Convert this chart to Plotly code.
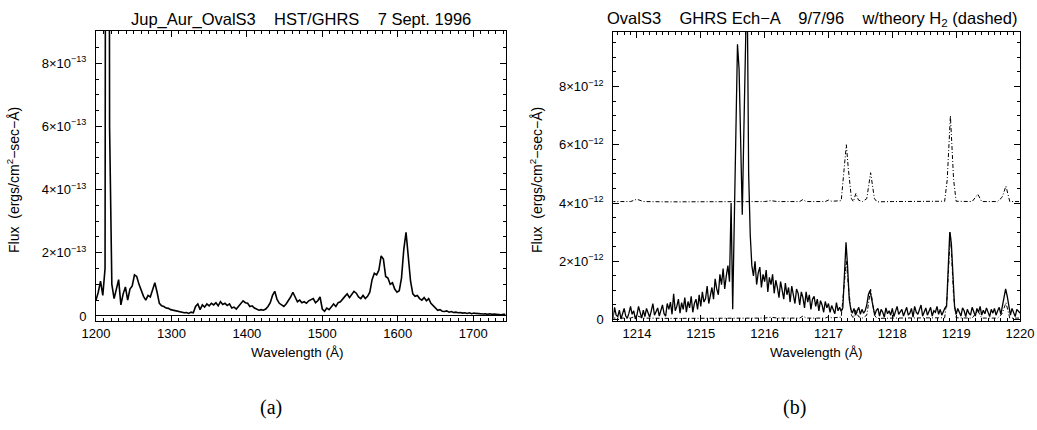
import numpy as np
import plotly.graph_objects as go

# ---------------- Panel (a): low-resolution spectrum (flux in 1e-13 units) ----------------
WAVE_A_START = 1200.0   # Angstrom
WAVE_A_STEP = 3.0       # Angstrom per sample
flux_a_e13 = [
    # 1200 - 1227
    0.50, 0.75, 1.10, 0.65, 1.50, 60.0, 6.00, 1.00, 0.55, 0.90,
    # 1230 - 1257
    1.15, 0.35, 0.70, 0.92, 0.50, 0.85, 0.95, 1.30, 1.25, 1.00,
    # 1260 - 1287
    0.80, 0.62, 0.50, 0.65, 0.60, 0.80, 1.05, 0.75, 0.40, 0.32,
    # 1290 - 1317
    0.30, 0.25, 0.24, 0.20, 0.18, 0.17, 0.15, 0.14, 0.12, 0.10,
    # 1320 - 1347
    0.11, 0.08, 0.12, 0.10, 0.30, 0.38, 0.20, 0.35, 0.28, 0.38,
    # 1350 - 1377
    0.32, 0.40, 0.35, 0.42, 0.32, 0.45, 0.36, 0.40, 0.33, 0.38,
    # 1380 - 1407
    0.25, 0.28, 0.22, 0.30, 0.40, 0.48, 0.42, 0.40, 0.30, 0.32,
    # 1410 - 1437
    0.25, 0.22, 0.18, 0.20, 0.18, 0.22, 0.30, 0.42, 0.65, 0.78,
    # 1440 - 1467
    0.52, 0.40, 0.35, 0.30, 0.38, 0.48, 0.60, 0.75, 0.60, 0.45,
    # 1470 - 1497
    0.50, 0.42, 0.45, 0.40, 0.48, 0.52, 0.55, 0.42, 0.48, 0.60,
    # 1500 - 1527
    0.22, 0.15, 0.25, 0.20, 0.30, 0.38, 0.30, 0.42, 0.45, 0.55,
    # 1530 - 1557
    0.62, 0.70, 0.58, 0.68, 0.78, 0.72, 0.60, 0.55, 0.65, 0.55,
    # 1560 - 1587
    0.62, 0.75, 1.15, 1.35, 1.30, 1.45, 1.90, 1.80, 1.25, 1.20,
    # 1590 - 1617
    1.00, 1.05, 0.85, 0.75, 0.80, 1.20, 2.10, 2.65, 1.80, 1.10,
    # 1620 - 1647
    0.70, 0.62, 0.65, 0.55, 0.50, 0.58, 0.48, 0.55, 0.40, 0.32,
    # 1650 - 1677
    0.25, 0.18, 0.20, 0.15, 0.14, 0.16, 0.12, 0.14, 0.11, 0.12,
    # 1680 - 1707
    0.10, 0.11, 0.09, 0.10, 0.08, 0.10, 0.07, 0.09, 0.08, 0.07,
    # 1710 - 1737
    0.08, 0.06, 0.07, 0.05, 0.07, 0.05, 0.06, 0.05, 0.06, 0.04,
    # 1740 - 1743
    0.05, 0.05,
]

# ---------------- Panel (b): echelle spectrum around Lyman alpha (flux in 1e-12 units) -----
WAVE_B_START = 1213.6   # Angstrom
WAVE_B_STEP = 0.025     # Angstrom per sample
flux_b_e12 = [
    0.20, 0.05, 0.42, 0.15, 0.10, 0.32, 0.02, 0.25,   # 1213.6
    0.38, 0.12, 0.05, 0.22, 0.45, 0.18, 0.30, 0.02,   # 1213.8
    0.15, 0.45, 0.28, 0.05, 0.32, 0.10, 0.38, 0.20,   # 1214.0
    0.08, 0.30, 0.55, 0.15, 0.25, 0.40, 0.12, 0.35,   # 1214.2
    0.50, 0.20, 0.12, 0.55, 0.35, 0.60, 0.18, 0.88,   # 1214.4
    0.30, 0.45, 0.70, 0.22, 0.58, 0.35, 0.75, 0.25,   # 1214.6
    0.62, 0.40, 0.80, 0.25, 0.55, 0.70, 0.35, 0.85,   # 1214.8
    0.45, 0.95, 0.60, 0.72, 1.15, 0.55, 0.90, 1.10,   # 1215.0
    0.70, 1.40, 1.05, 0.85, 1.55, 1.20, 1.75, 1.05,   # 1215.2
    1.50, 1.85, 1.30, 4.00, 0.35, 3.00, 6.50, 9.45,   # 1215.4
    8.60, 5.50, 3.60, 6.50, 11.5, 12.0, 5.00, 2.90,   # 1215.6
    1.85, 1.50, 2.00, 1.20, 1.60, 1.80, 1.10, 1.55,   # 1215.8
    1.30, 1.70, 0.95, 1.45, 1.20, 1.55, 0.90, 1.35,   # 1216.0
    1.10, 0.75, 1.30, 1.00, 0.70, 1.25, 0.85, 1.10,   # 1216.2
    0.60, 1.15, 0.80, 0.55, 1.05, 0.90, 0.50, 0.95,   # 1216.4
    0.75, 0.40, 0.95, 0.60, 0.85, 0.35, 0.70, 0.80,   # 1216.6
    0.45, 0.70, 0.30, 0.65, 0.50, 0.25, 0.62, 0.40,   # 1216.8
    0.55, 0.25, 0.48, 0.35, 0.20, 0.58, 0.30, 0.42,   # 1217.0
    0.28, 0.40, 1.50, 2.65, 1.80, 0.70, 0.35, 0.22,   # 1217.2
    0.38, 0.15, 0.30, 0.42, 0.18, 0.35, 0.22, 0.30,   # 1217.4
    0.50, 0.85, 1.00, 0.70, 0.35, 0.15, 0.32, 0.38,   # 1217.6
    0.12, 0.35, 0.25, 0.08, 0.40, 0.20, 0.30, 0.15,   # 1217.8
    0.38, 0.10, 0.28, 0.45, 0.18, 0.25, 0.35, 0.12,   # 1218.0
    0.30, 0.42, 0.15, 0.22, 0.38, 0.08, 0.45, 0.25,   # 1218.2
    0.18, 0.35, 0.50, 0.12, 0.28, 0.40, 0.15, 0.32,   # 1218.4
    0.42, 0.12, 0.30, 0.25, 0.45, 0.18, 0.35, 0.15,   # 1218.6
    0.28, 0.40, 0.45, 1.50, 3.00, 2.60, 1.20, 0.45,   # 1218.8
    0.18, 0.38, 0.25, 0.12, 0.40, 0.30, 0.10, 0.35,   # 1219.0
    0.22, 0.15, 0.42, 0.30, 0.12, 0.38, 0.25, 0.45,   # 1219.2
    0.15, 0.32, 0.20, 0.40, 0.28, 0.10, 0.35, 0.22,   # 1219.4
    0.38, 0.15, 0.30, 0.42, 0.18, 0.45, 0.75, 1.05,   # 1219.6
    0.80, 0.45, 0.15, 0.38, 0.25, 0.10, 0.35, 0.28,   # 1219.8
    0.22,                                             # 1220.0
]

# Theoretical H2 emission spectrum (flux in 1e-12 units)
h2_wave = [
    1213.60, 1213.90, 1214.00, 1214.10, 1214.50, 1215.00, 1215.50, 1216.00,
    1216.10, 1216.20, 1216.55, 1216.60, 1216.65, 1216.95, 1217.00, 1217.05,
    1217.20, 1217.25, 1217.28, 1217.31, 1217.36, 1217.39, 1217.43, 1217.47,
    1217.53, 1217.60, 1217.66, 1217.72, 1217.76, 1218.00, 1218.50, 1218.82,
    1218.86, 1218.91, 1218.96, 1219.00, 1219.25, 1219.34, 1219.40, 1219.65,
    1219.72, 1219.78, 1219.84, 1220.00,
]
h2_flux_e12 = [
    0.05, 0.05, 0.13, 0.05, 0.04, 0.05, 0.04, 0.05,
    0.08, 0.05, 0.05, 0.12, 0.05, 0.05, 0.10, 0.06,
    0.08, 1.20, 2.00, 1.20, 0.15, 0.05, 0.33, 0.10,
    0.05, 0.15, 1.04, 0.15, 0.04, 0.05, 0.05, 0.06,
    0.80, 3.00, 0.80, 0.06, 0.05, 0.30, 0.05, 0.05,
    0.20, 0.58, 0.05, 0.05,
]
H2_OFFSET_E12 = 4.0     # vertical shift of the displaced model copy

# Axis ticks and labels
xticks_a = [1200, 1300, 1400, 1500, 1600, 1700]
yticks_a = [0, 2, 4, 6, 8]
ylabels_a = ["0"] + ["{}×10<sup>−13</sup>".format(v) for v in yticks_a[1:]]
xticks_b = [1214, 1215, 1216, 1217, 1218, 1219, 1220]
yticks_b = [0, 2, 4, 6, 8]
ylabels_b = ["0"] + ["{}×10<sup>−12</sup>".format(v) for v in yticks_b[1:]]

title_a = "Jup_Aur_OvalS3    HST/GHRS    7 Sept. 1996"
title_b = "OvalS3    GHRS Ech−A    9/7/96    w/theory H<sub>2</sub> (dashed)"
xtitle = "Wavelength (Å)"
ytitle = "Flux  (ergs/cm<sup>2</sup>−sec−Å)"

# ---------------- derived arrays ----------------
wave_a = WAVE_A_START + WAVE_A_STEP * np.arange(len(flux_a_e13))
flux_a = np.array(flux_a_e13) * 1e-13
wave_b = WAVE_B_START + WAVE_B_STEP * np.arange(len(flux_b_e12))
flux_b = np.array(flux_b_e12) * 1e-12
h2_w = np.array(h2_wave)
h2_f = np.array(h2_flux_e12) * 1e-12

W, H = 1037, 430
def px(x):
    return x / W
def py(y):
    return 1 - y / H

FONT = "Liberation Sans, Arial, Helvetica, sans-serif"
DASHDOT = "4px,2px,1px,2px"

fig = go.Figure()
fig.add_trace(go.Scatter(x=wave_a, y=flux_a, mode="lines",
                         line=dict(color="black", width=1.6),
                         xaxis="x", yaxis="y", showlegend=False))
fig.add_trace(go.Scatter(x=wave_b, y=flux_b, mode="lines",
                         line=dict(color="black", width=1.3),
                         xaxis="x2", yaxis="y2", showlegend=False))
fig.add_trace(go.Scatter(x=h2_w, y=h2_f, mode="lines",
                         line=dict(color="black", width=1, dash=DASHDOT),
                         xaxis="x2", yaxis="y2", showlegend=False))
fig.add_trace(go.Scatter(x=h2_w, y=h2_f + H2_OFFSET_E12 * 1e-12, mode="lines",
                         line=dict(color="black", width=1, dash=DASHDOT),
                         xaxis="x2", yaxis="y2", showlegend=False))

def axis_common():
    return dict(showline=True, linecolor="black", linewidth=1, mirror="allticks",
                ticks="inside", ticklen=6, tickwidth=1, tickcolor="black",
                showgrid=False, automargin=False,
                tickfont=dict(family=FONT, size=13, color="black"),
                tickmode="array")

xa = axis_common()
xa.update(domain=[px(96), px(505.6)], range=[1200, 1743], anchor="y",
          tickvals=xticks_a, ticktext=[str(v) for v in xticks_a], zeroline=False,
          minor=dict(ticks="inside", ticklen=3, tickwidth=1, tickcolor="black",
                     tickmode="linear", tick0=1200, dtick=10, showgrid=False))
ya = axis_common()
ya.update(domain=[py(321), py(31)], range=[-0.16e-13, 9.02e-13], anchor="x",
          tickvals=[v * 1e-13 for v in yticks_a], ticktext=ylabels_a,
          zeroline=True, zerolinecolor="black", zerolinewidth=1,
          ticklabelstandoff=6,
          minor=dict(ticks="inside", ticklen=3, tickwidth=1, tickcolor="black",
                     tickmode="linear", tick0=0, dtick=0.5e-13, showgrid=False))
xb = axis_common()
xb.update(domain=[px(613.3), px(1020)], range=[1213.63, 1220.0], anchor="y2",
          tickvals=xticks_b, ticktext=[str(v) for v in xticks_b], zeroline=False,
          minor=dict(ticks="inside", ticklen=3, tickwidth=1, tickcolor="black",
                     tickmode="linear", tick0=1213, dtick=0.1, showgrid=False))
yb = axis_common()
yb.update(domain=[py(321), py(32)], range=[-0.05e-12, 9.87e-12], anchor="x2",
          tickvals=[v * 1e-12 for v in yticks_b], ticktext=ylabels_b, zeroline=False,
          ticklabelstandoff=6,
          minor=dict(ticks="inside", ticklen=3, tickwidth=1, tickcolor="black",
                     tickmode="linear", tick0=0, dtick=0.5e-12, showgrid=False))

ann = []
def label(text, x, y, size, family=FONT, angle=0):
    ann.append(dict(text=text, x=px(x), y=py(y), xref="paper", yref="paper",
                    xanchor="center", yanchor="middle", showarrow=False,
                    textangle=angle, font=dict(family=family, size=size, color="black")))

label(title_a, 300.8, 19, 16.5)
label(title_b, 812, 19, 16.5)
label(xtitle, 297, 352, 13.5)
label(xtitle, 816.7, 352, 13.5)
label(ytitle, 13, 180, 14, angle=-90)
label(ytitle, 536, 180, 14, angle=-90)
label("(a)", 271, 407, 20, family="Liberation Serif, Times New Roman, serif")
label("(b)", 794, 407, 20, family="Liberation Serif, Times New Roman, serif")

fig.update_layout(width=W, height=H, margin=dict(l=0, r=0, t=0, b=0),
                  paper_bgcolor="white", plot_bgcolor="white",
                  xaxis=xa, yaxis=ya, xaxis2=xb, yaxis2=yb,
                  annotations=ann, showlegend=False)

fig.write_html("out.html")
